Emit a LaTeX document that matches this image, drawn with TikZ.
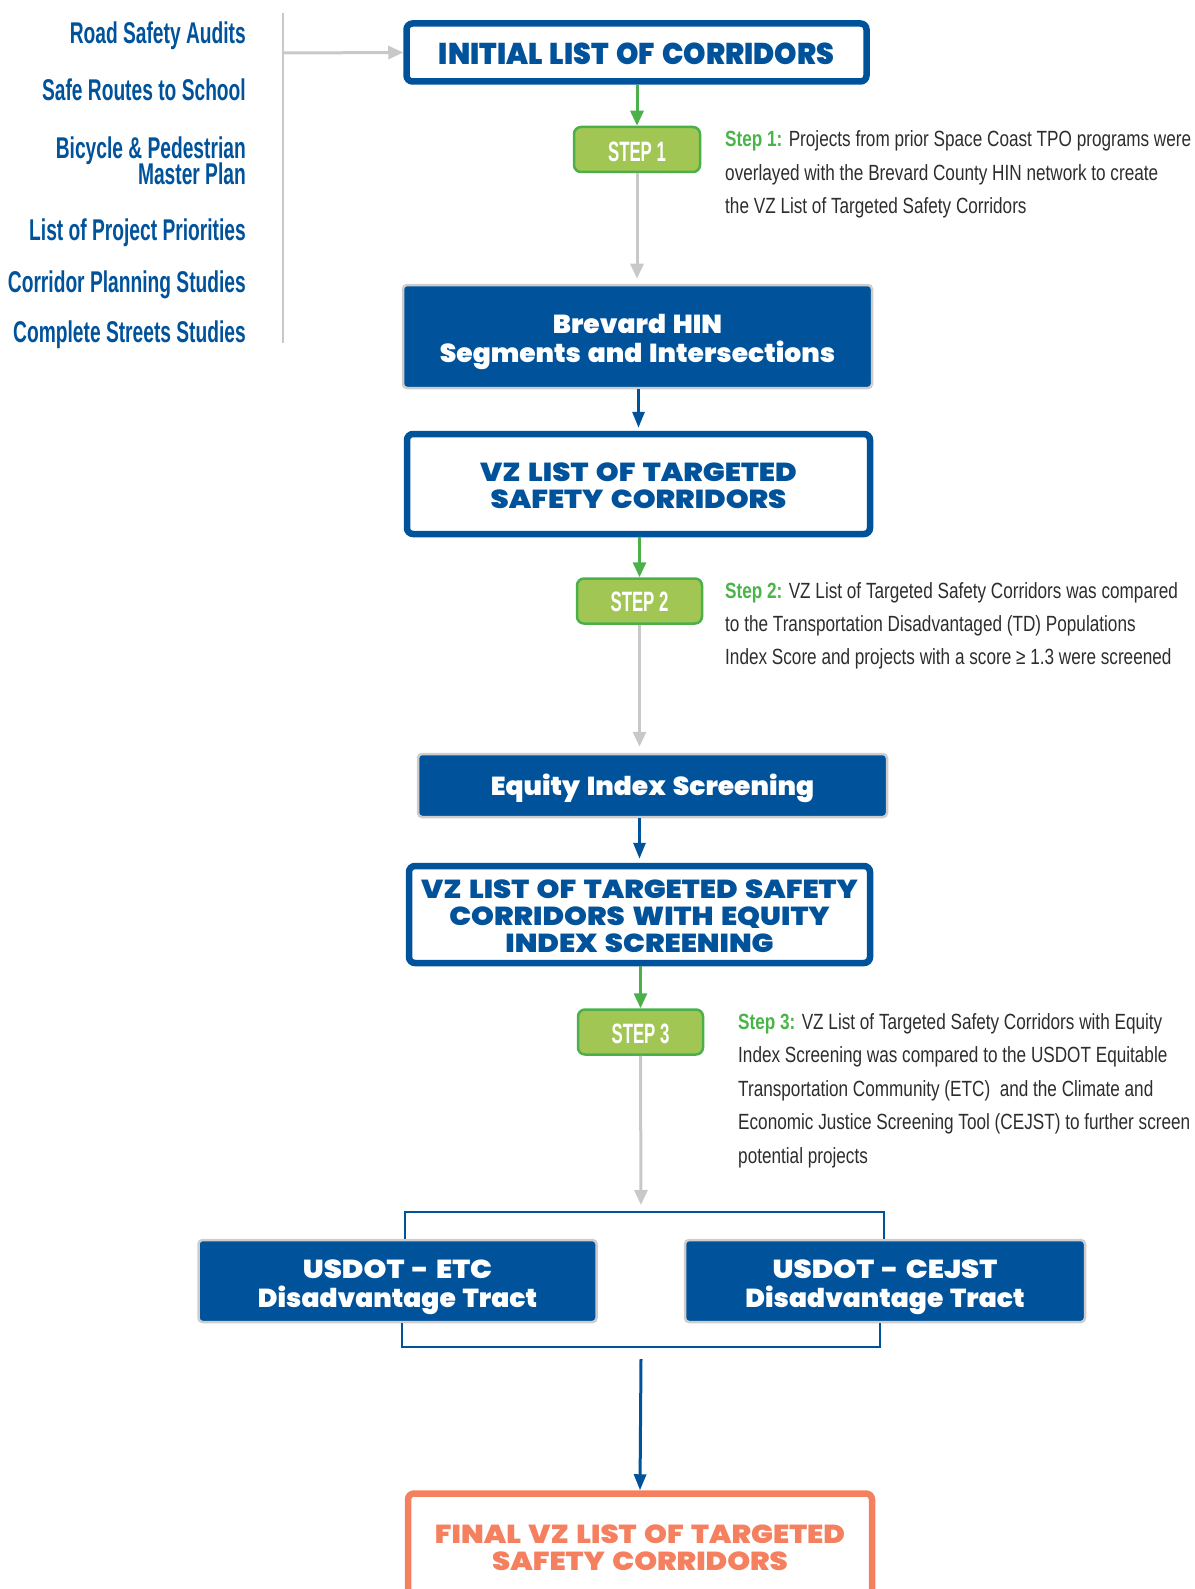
\documentclass[tikz,border=0pt]{standalone}
\usepackage{fontspec}
\setmainfont{Liberation Sans}
\newfontfamily\headfont[FakeStretch=1.02,WordSpace=1.5]{Poppins Black}
\newfontfamily\capsfont[FakeStretch=1.12,WordSpace=1.5]{Poppins Black}
\newfontfamily\initfont[FakeStretch=0.95,WordSpace=1.5]{Poppins Black}
\newfontfamily\condfont[FakeStretch=0.78]{Liberation Sans}
\newfontfamily\listfont[FakeStretch=0.64]{Liberation Sans}
\newfontfamily\stepfont[FakeStretch=0.60]{Liberation Sans}
\usetikzlibrary{arrows.meta}
\definecolor{vzblue}{RGB}{0,82,155}
\definecolor{vzgreen}{RGB}{76,176,74}
\definecolor{stepgreen}{RGB}{74,180,72}
\definecolor{stepfill}{RGB}{162,198,83}
\definecolor{linegray}{RGB}{200,200,200}
\definecolor{boxgray}{RGB}{205,205,205}
\definecolor{vzorange}{RGB}{245,128,96}
\definecolor{bodygray}{RGB}{45,45,45}
\newcommand\mlines[1]{\begin{tabular}[t]{@{}c@{}}#1\end{tabular}}
\newcommand\plines[1]{\begin{tabular}[t]{@{}l@{}}#1\end{tabular}}
\begin{document}
\begin{tikzpicture}[x=1pt,y=-1pt,
 hollowbox/.style={draw=vzblue,line width=6.5pt,fill=white,rounded corners=6pt,inner sep=0pt,text=vzblue,font=\capsfont\fontsize{26}{27}\selectfont},
 bluebox/.style={draw=boxgray,line width=2.5pt,fill=vzblue,rounded corners=4pt,inner sep=0pt,text=white,font=\headfont\fontsize{26}{27}\selectfont},
 stepbox/.style={draw=vzgreen,line width=2.5pt,fill=stepfill,rounded corners=7pt,inner sep=0pt,text=white,font=\stepfont\bfseries\fontsize{28}{28}\selectfont,minimum width=125pt,minimum height=45pt},
 finalbox/.style={draw=vzorange,line width=6.5pt,fill=white,rounded corners=6pt,inner sep=0pt,text=vzorange,font=\capsfont\fontsize{26}{27}\selectfont},
 steptext/.style={inner sep=0pt,text=bodygray,font=\condfont\fontsize{22}{33.4}\selectfont,anchor=base west},
 srcitem/.style={inner sep=0pt,text=vzblue,font=\listfont\bfseries\fontsize{30}{30}\selectfont,anchor=base east},
 greenarrow/.style={draw=vzgreen,line width=3pt,-{Triangle[width=13pt,length=15pt]}},
 grayarrow/.style={draw=linegray,line width=3pt,-{Triangle[width=13pt,length=15pt]}},
 grayline/.style={draw=linegray,line width=2.5pt},
 bluearrow/.style={draw=vzblue,line width=3pt,-{Triangle[width=12pt,length=16pt]}},
 bracket/.style={draw=vzblue,line width=2.5pt},
]
\useasboundingbox (0,0) rectangle (1194,1589);

% source list
\node[srcitem] (s1) at (246,43.5) {Road Safety Audits};
\node[srcitem] (s2) at (246,101) {Safe Routes to School};
\node[srcitem] (s3) at (246,158.3) {\vtop{\hsize=260pt\raggedleft\baselineskip=26pt\lineskiplimit=-100pt\noindent Bicycle \& Pedestrian\\Master Plan}};
\node[srcitem] (s4) at (246,241) {List of Project Priorities};
\node[srcitem] (s5) at (246,292.5) {Corridor Planning Studies};
\node[srcitem] (s6) at (246,342.7) {Complete Streets Studies};
\coordinate (srcTop) at (283,13);
\coordinate (srcBot) at (283,343);
\coordinate (srcMid) at (283,53);

% main boxes
\node[hollowbox, minimum width=460pt, minimum height=58pt, text height=32.5pt, text depth=7.5pt, font=\initfont\fontsize{30}{30}\selectfont] (init) at (636.5,52.5) {INITIAL LIST OF CORRIDORS};
\node[stepbox, minimum width=126pt, text height=32pt, text depth=8pt] (step1) at (637,149.5) {STEP 1};
\node[bluebox, minimum width=469pt, minimum height=103pt, text height=16.5pt, text depth=23.5pt] (hin) at (637.5,336.5) {\mlines{Brevard HIN\\Segments and Intersections}};
\node[hollowbox, minimum width=463pt, minimum height=100pt, text height=17pt, text depth=23pt] (vz1) at (638.5,484) {\mlines{VZ LIST OF TARGETED\\SAFETY CORRIDORS}};
\node[stepbox, text height=30.5pt, text depth=9.5pt] (step2) at (639.5,601) {STEP 2};
\node[bluebox, minimum width=469pt, minimum height=63pt, text height=29.5pt, text depth=10.5pt] (equity) at (652.5,785.5) {Equity Index Screening};
\node[hollowbox, minimum width=461pt, minimum height=97pt, text height=3.5pt, text depth=36.5pt] (vz2) at (639.5,914.5) {\mlines{VZ LIST OF TARGETED SAFETY\\CORRIDORS WITH EQUITY\\INDEX SCREENING}};
\node[stepbox, text height=31pt, text depth=9pt] (step3) at (640.5,1032) {STEP 3};
\node[bluebox, minimum width=398pt, minimum height=82pt, text height=17pt, text depth=23pt] (etc) at (397.5,1281) {\mlines{{\capsfont USDOT - ETC}\\Disadvantage Tract}};
\node[bluebox, minimum width=400pt, minimum height=82pt, text height=17pt, text depth=23pt] (cejst) at (885,1281) {\mlines{{\capsfont USDOT - CEJST}\\Disadvantage Tract}};
\node[finalbox, minimum width=464pt, minimum height=150pt, text height=5pt, text depth=55pt] (final) at (640,1568.5) {\mlines{FINAL VZ LIST OF TARGETED\\SAFETY CORRIDORS}};

% step descriptions
\node[steptext] (t1) at (725,146.7) {\plines{\textcolor{stepgreen}{\bfseries Step 1:} Projects from prior Space Coast TPO programs were\\overlayed with the Brevard County HIN network to create\\the VZ List of Targeted Safety Corridors}};
\node[steptext] (t2) at (725,598) {\plines{\textcolor{stepgreen}{\bfseries Step 2:} VZ List of Targeted Safety Corridors was compared\\to the Transportation Disadvantaged (TD) Populations\\Index Score and projects with a score ≥ 1.3 were screened}};
\node[steptext] (t3) at (738,1029.5) {\plines{\textcolor{stepgreen}{\bfseries Step 3:} VZ List of Targeted Safety Corridors with Equity\\Index Screening was compared to the USDOT Equitable\\Transportation Community (ETC)~ and the Climate and\\Economic Justice Screening Tool (CEJST) to further screen\\potential projects}};

% connectors
\draw[grayline] (srcTop) -- (srcBot);
\draw[grayarrow] (srcMid) -- (init.west);
\draw[greenarrow] (init.south -| step1.north) -- (step1.north);
\draw[grayarrow, shorten >=5pt] (step1.south) -- (step1.south |- hin.north);
\draw[bluearrow, shorten >=3pt] (hin.south -| vz1.north) -- (vz1.north);
\draw[greenarrow] (vz1.south -| step2.north) -- (step2.north);
\draw[grayarrow, shorten >=6pt] (step2.south) -- (step2.south |- equity.north);
\draw[bluearrow, shorten >=4pt] (vz2.north |- equity.south) -- (vz2.north);
\draw[greenarrow] (vz2.south -| step3.north) -- (step3.north);
\coordinate (bt) at (641,1212);
\coordinate (bb) at (641,1347);
\coordinate (bstart) at (641,1359);
\draw[grayarrow, shorten >=7pt] (step3.south) -- (bt);
\draw[bracket] ([xshift=7.5pt]etc.north) |- (bt) -| ([xshift=-1pt]cejst.north);
\draw[bracket] ([xshift=4.5pt]etc.south) |- (bb) -| ([xshift=-5pt]cejst.south);
\draw[bluearrow] (bstart) -- (final.north);
\end{tikzpicture}
\end{document}
